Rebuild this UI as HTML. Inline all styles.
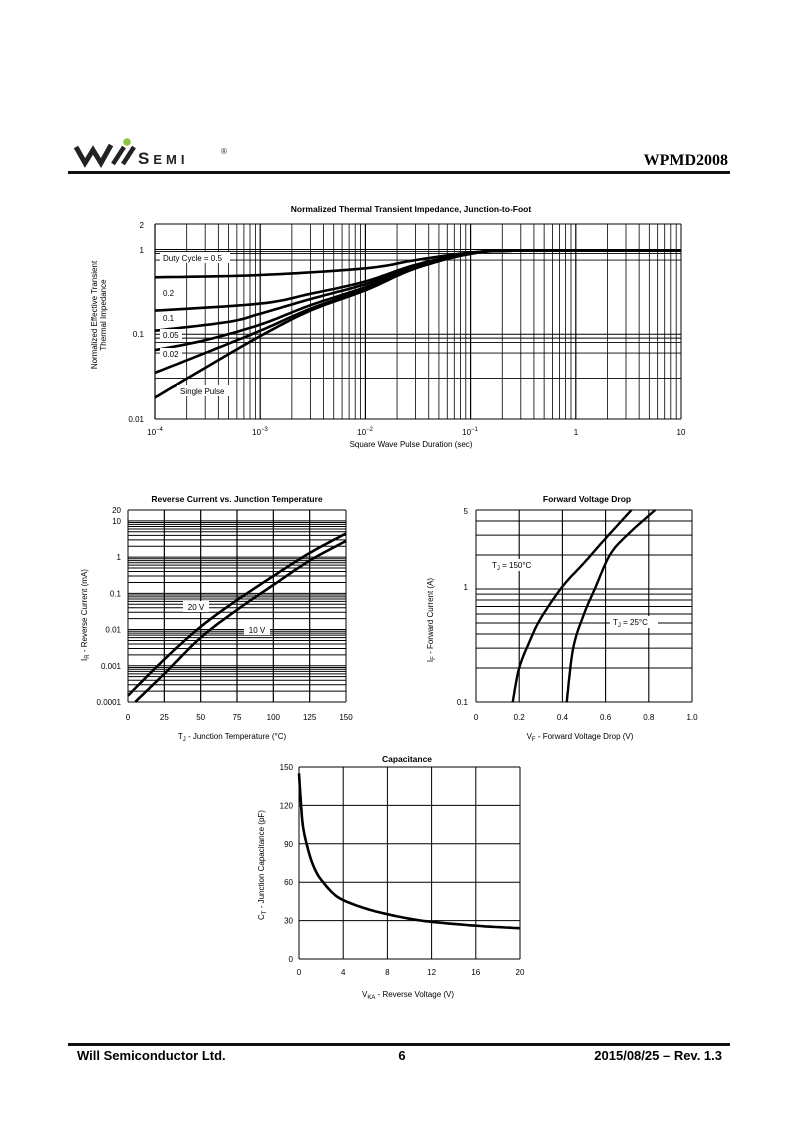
<!DOCTYPE html>
<html><head><meta charset="utf-8"><style>
html,body{margin:0;padding:0;background:#fff;}
body{width:800px;height:1132px;position:relative;overflow:hidden;font-family:"Liberation Sans",sans-serif;}
svg{position:absolute;left:0;top:0;}
</style></head><body>
<svg id="s" width="800" height="1132" viewBox="0 0 800 1132" font-family="Liberation Sans, sans-serif">
<g>
<path d="M76 147 L85 163 L93 150 L101 163 L111 145" fill="none" stroke="#222" stroke-width="5" stroke-linejoin="miter"/>
<path d="M113 164 L124 147 M123 164 L134 147" stroke="#222" stroke-width="4.5"/>
<circle cx="127" cy="142" r="3.8" fill="#8cc63f"/>
<text x="138" y="164" font-size="17" font-weight="bold" fill="#222" letter-spacing="4">S<tspan font-size="13">EMI</tspan></text>
<text x="221" y="154" font-size="8" fill="#222">®</text>
<text x="728" y="165" font-size="16" font-weight="bold" font-family="Liberation Serif, serif" text-anchor="end">WPMD2008</text>
<rect x="68" y="171" width="662" height="3" fill="#111"/>
<rect x="68" y="1043" width="662" height="3" fill="#111"/>
<text x="77" y="1060" font-size="13" font-weight="bold">Will Semiconductor Ltd.</text>
<text x="402" y="1060" font-size="13" font-weight="bold" text-anchor="middle">6</text>
<text x="722" y="1060" font-size="13" font-weight="bold" text-anchor="end">2015/08/25 – Rev. 1.3</text>
</g>
<g id="g"></g>
</svg>
<script>
var g=document.getElementById('g'),h='';
function L(x1,y1,x2,y2,w,c){h+='<line x1="'+x1+'" y1="'+y1+'" x2="'+x2+'" y2="'+y2+'" stroke="'+(c||'#000')+'" stroke-width="'+(w||1)+'"/>';}
function T(x,y,s,sz,a,extra){h+='<text x="'+x+'" y="'+y+'" font-size="'+(sz||8)+'" text-anchor="'+(a||'middle')+'" '+(extra||'')+'>'+s+'</text>';}
function P(pts,w){var d='';pts.forEach(function(p,i){d+=(i?'L':'M')+p[0].toFixed(1)+' '+p[1].toFixed(1);});h+='<path d="'+d+'" fill="none" stroke="#000" stroke-width="'+(w||2.6)+'" stroke-linejoin="round"/>';}
function interp(pts,fx,fy,n){
 var out=[];for(var i=0;i<pts.length-1;i++){var a=pts[i],b=pts[i+1],p0=pts[i-1]||a,p3=pts[i+2]||b;
 var A=[fx(a[0]),fy(a[1])],B=[fx(b[0]),fy(b[1])],P0=[fx(p0[0]),fy(p0[1])],P3=[fx(p3[0]),fy(p3[1])];
 for(var k=0;k<n;k++){var t=k/n,t2=t*t,t3=t2*t;
 var x=0.5*((2*A[0])+(-P0[0]+B[0])*t+(2*P0[0]-5*A[0]+4*B[0]-P3[0])*t2+(-P0[0]+3*A[0]-3*B[0]+P3[0])*t3);
 var y=0.5*((2*A[1])+(-P0[1]+B[1])*t+(2*P0[1]-5*A[1]+4*B[1]-P3[1])*t2+(-P0[1]+3*A[1]-3*B[1]+P3[1])*t3);out.push([x,y]);}}
 var l=pts[pts.length-1];out.push([fx(l[0]),fy(l[1])]);return out;}
var lg=Math.log10;

(function(){var x0=155,x1=681,y0=224,y1=419;
var fx=function(v){return x0+(lg(v)+4)*(x1-x0)/5;},fy=function(v){return y0+(lg(2)-lg(v))*(y1-y0)/(lg(2)+2);};
for(var d=-4;d<1;d++)for(var m=1;m<10;m++){var x=fx(m*Math.pow(10,d));L(x,y0,x,y1,m==1?1.2:0.8);}
[1,0.95,0.9,0.75,0.1,0.09,0.08,0.06,0.03].forEach(function(v){L(x0,fy(v),x1,fy(v),0.9);});
L(x0,y0,x1,y0,1);L(x0,y1,x1,y1,1);L(x0,y0,x0,y1,1);L(x1,y0,x1,y1,1);
T(411,212,'Normalized Thermal Transient Impedance, Junction-to-Foot',8.5,'middle','font-weight="bold"');
T(144,228,'2',8,'end');T(144,253,'1',8,'end');T(144,337,'0.1',8,'end');T(144,422,'0.01',8,'end');
[['10<tspan font-size="6" dy="-4">−4</tspan>',155],['10<tspan font-size="6" dy="-4">−3</tspan>',260],['10<tspan font-size="6" dy="-4">−2</tspan>',365],['10<tspan font-size="6" dy="-4">−1</tspan>',470],['1',576],['10',681]].forEach(function(a){T(a[1],435,a[0],8);});
T(411,447,'Square Wave Pulse Duration (sec)',8);
h+='<text transform="translate(97,315) rotate(-90)" font-size="8" text-anchor="middle">Normalized Effective Transient</text>';
h+='<text transform="translate(106,315) rotate(-90)" font-size="8" text-anchor="middle">Thermal Impedance</text>';
var C=[
[[1e-4,0.47],[1e-3,0.5],[1e-2,0.6],[3e-2,0.75],[0.1,0.92],[0.3,0.97],[10,0.97]],
[[1e-4,0.19],[1e-3,0.23],[3e-3,0.3],[1e-2,0.42],[3e-2,0.66],[0.1,0.91],[0.3,0.97],[10,0.97]],
[[1e-4,0.11],[5e-4,0.14],[1e-3,0.175],[3e-3,0.26],[1e-2,0.39],[3e-2,0.63],[0.1,0.9],[0.3,0.97],[10,0.97]],
[[1e-4,0.065],[3e-4,0.085],[1e-3,0.13],[3e-3,0.22],[1e-2,0.36],[3e-2,0.61],[0.1,0.9],[0.3,0.97],[10,0.97]],
[[1e-4,0.035],[3e-4,0.06],[1e-3,0.11],[3e-3,0.2],[1e-2,0.34],[3e-2,0.6],[0.1,0.89],[0.3,0.97],[10,0.97]],
[[1e-4,0.018],[3e-4,0.04],[1e-3,0.095],[3e-3,0.19],[1e-2,0.33],[3e-2,0.6],[0.1,0.89],[0.3,0.97],[10,0.97]]];
C.forEach(function(c){P(interp(c,fx,fy,12),2.6);});
[['Duty Cycle = 0.5',161,260,68],['0.2',161,295,16],['0.1',161,320,16],['0.05',161,337,20],['0.02',161,356,20],['Single Pulse',178,393,54]].forEach(function(a){h+='<rect x="'+(a[1]-1)+'" y="'+(a[2]-8)+'" width="'+(a[3]+2)+'" height="11" fill="#fff"/>';T(a[1]+2,a[2]+1,a[0],8,'start');});
})();

(function(){var x0=128,x1=346,y0=510,y1=702;
var fx=function(v){return x0+v*(x1-x0)/150;},fy=function(v){return y0+(lg(20)-lg(v))*(y1-y0)/(lg(20)+4);};
for(var d=-4;d<2;d++)for(var m=1;m<10;m++){var v=m*Math.pow(10,d);if(v>20)continue;L(x0,fy(v),x1,fy(v),1);}
L(x0,fy(20),x1,fy(20),1);
for(var t=25;t<150;t+=25)L(fx(t),y0,fx(t),y1,1.2);
L(x0,y0,x0,y1,1);L(x1,y0,x1,y1,1);
T(237,502,'Reverse Current vs. Junction Temperature',8.5,'middle','font-weight="bold"');
[['20',20],['10',10],['1',1],['0.1',0.1],['0.01',0.01],['0.001',0.001],['0.0001',0.0001]].forEach(function(a){T(121,fy(a[1])+3,a[0],8,'end');});
for(var t=0;t<=150;t+=25)T(fx(t),720,t,8);
T(232,739,'T<tspan font-size="6" dy="2">J</tspan><tspan dy="-2">  -  Junction Temperature (°C)</tspan>',8);
h+='<text transform="translate(87,615) rotate(-90)" font-size="8" text-anchor="middle">I<tspan font-size="6" dy="2">R</tspan><tspan dy="-2">  -  Reverse Current (mA)</tspan></text>';
P(interp([[0,0.00015],[25,0.0015],[50,0.012],[75,0.065],[100,0.3],[125,1.3],[150,4.5]],fx,fy,12),2.6);
P(interp([[5,0.0001],[25,0.0006],[50,0.006],[75,0.035],[100,0.17],[125,0.8],[150,2.8]],fx,fy,12),2.6);
h+='<rect x="183" y="601" width="26" height="11" fill="#fff"/>';T(196,610,'20 V',8);
h+='<rect x="244" y="624" width="26" height="11" fill="#fff"/>';T(257,633,'10 V',8);
})();

(function(){var x0=476,x1=692,y0=510,y1=702;
var fx=function(v){return x0+v*(x1-x0);},fy=function(v){return y0+(lg(5)-lg(v))*(y1-y0)/(lg(5)+1);};
[5,4,3,2,1,0.9,0.8,0.7,0.6,0.5,0.4,0.3,0.2].forEach(function(v){L(x0,fy(v),x1,fy(v),1);});
[0.2,0.4,0.6,0.8].forEach(function(v){L(fx(v),y0,fx(v),y1,1.1);});
L(x0,y0,x0,y1,1);L(x1,y0,x1,y1,1);L(x0,y1,x1,y1,1);
T(587,502,'Forward Voltage Drop',8.5,'middle','font-weight="bold"');
T(468,514,'5',8,'end');T(468,590,'1',8,'end');T(468,705,'0.1',8,'end');
['0','0.2','0.4','0.6','0.8','1.0'].forEach(function(s,i){T(fx(i*0.2),720,s,8);});
T(580,739,'V<tspan font-size="6" dy="2">F</tspan><tspan dy="-2">  -  Forward Voltage Drop (V)</tspan>',8);
h+='<text transform="translate(433,620) rotate(-90)" font-size="8" text-anchor="middle">I<tspan font-size="6" dy="2">F</tspan><tspan dy="-2">  -  Forward Current (A)</tspan></text>';
P(interp([[0.17,0.1],[0.2,0.2],[0.25,0.35],[0.3,0.55],[0.4,1.05],[0.5,1.7],[0.6,2.8],[0.72,5]],fx,fy,10),2.4);
P(interp([[0.42,0.1],[0.45,0.3],[0.5,0.6],[0.55,1.0],[0.62,2],[0.7,3],[0.83,5]],fx,fy,10),2.4);
h+='<rect x="490" y="559" width="50" height="12" fill="#fff"/>';T(492,568,'T<tspan font-size="6" dy="2">J</tspan><tspan dy="-2"> = 150°C</tspan>',8,'start');
h+='<rect x="610" y="616" width="48" height="12" fill="#fff"/>';T(613,625,'T<tspan font-size="6" dy="2">J</tspan><tspan dy="-2"> = 25°C</tspan>',8,'start');
})();

(function(){var x0=299,x1=520,y0=767,y1=959;
var fx=function(v){return x0+v*(x1-x0)/20;},fy=function(v){return y1-v*(y1-y0)/150;};
for(var c=30;c<150;c+=30)L(x0,fy(c),x1,fy(c),1);
for(var v=4;v<20;v+=4)L(fx(v),y0,fx(v),y1,1);
L(x0,y0,x1,y0,1);L(x0,y1,x1,y1,1);L(x0,y0,x0,y1,1);L(x1,y0,x1,y1,1);
T(407,762,'Capacitance',8.5,'middle','font-weight="bold"');
for(var c=0;c<=150;c+=30)T(293,fy(c)+3,c,8,'end');
for(var v=0;v<=20;v+=4)T(fx(v),975,v,8);
T(408,997,'V<tspan font-size="6" dy="2">KA</tspan><tspan dy="-2">  -  Reverse Voltage (V)</tspan>',8);
h+='<text transform="translate(264,865) rotate(-90)" font-size="8" text-anchor="middle">C<tspan font-size="6" dy="2">T</tspan><tspan dy="-2">  - Junction Capacitance (pF)</tspan></text>';
P(interp([[0,145],[0.15,125],[0.3,108],[0.5,97],[1,80],[1.5,69],[2,62],[3,52],[4,46],[6,39.5],[8,35],[10,31.5],[12,29],[16,26],[20,24]],fx,fy,10),2.6);
})();
g.innerHTML=h;
</script>
</body></html>
